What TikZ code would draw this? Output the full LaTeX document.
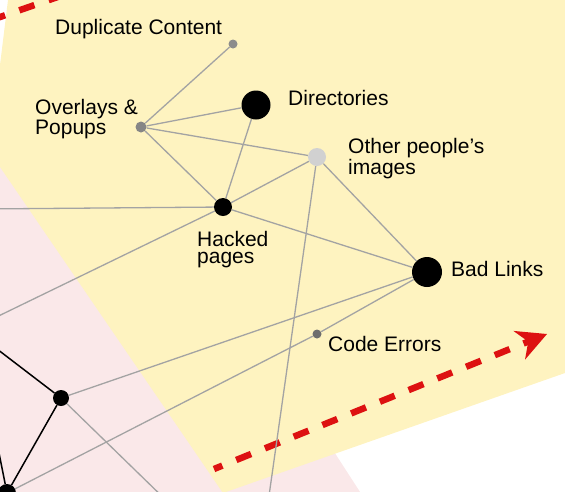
\documentclass[tikz,border=0pt]{standalone}
\usepackage{fontspec}
\setmainfont{Liberation Sans}
\usetikzlibrary{arrows.meta}
\definecolor{paleyellow}{HTML}{FEF3C0}
\definecolor{palepink}{HTML}{FAE8E9}
\definecolor{arrowred}{HTML}{DD1111}
\definecolor{edgegrey}{HTML}{A3A3A3}

\begin{document}
\begin{tikzpicture}[x=1pt,y=-1pt,
  vertex/.style={circle,inner sep=0pt,fill=black},
  link/.style={draw=edgegrey,line width=1.3pt},
  tie/.style={draw=black,line width=1.5pt},
  tag/.style={anchor=base west,inner sep=0pt,align=left,font=\fontsize{21}{17}\selectfont},
  flow/.style={draw=arrowred,line width=6.5pt,dash pattern=on 16pt off 15pt}]
\useasboundingbox (0,0) rectangle (565,491);
\clip (0,0) rectangle (565,491);

% zones
\fill[palepink] (0,120) -- (197,240) -- (362,495) -- (0,495) -- cycle;
\fill[paleyellow] (8,0) -- (565,0) -- (565,373) -- (223,493) -- (0,167) -- (0,65) -- cycle;

% direction of travel
\coordinate (redA) at (-10,20.5);
\coordinate (redB) at (62,-4.5);
\coordinate (flowA) at (214,469);
\coordinate (flowB) at (547,334);
\draw[flow] (redA) -- (redB);
\draw[flow,dash phase=7pt,-{Stealth[length=30pt,width=31pt,line width=0pt]}] (flowA) -- (flowB);

% dots
\node[vertex,fill=gray!90,minimum size=9pt] (dup) at (233,44) {};
\node[vertex,fill=gray!95,minimum size=11pt] (ovl) at (141,127) {};
\node[vertex,minimum size=29pt] (dir) at (256,105) {};
\node[vertex,fill=black!18,minimum size=18pt] (oth) at (317,157) {};
\node[vertex,minimum size=18pt] (hck) at (223,207) {};
\node[vertex,minimum size=30pt] (bad) at (427,272) {};
\node[vertex,fill=black!57,minimum size=9pt] (cod) at (317,334) {};
\node[vertex,minimum size=16pt] (p1) at (61,398) {};
\node[vertex,minimum size=18pt] (p2) at (7,493) {};

% loose ends leaving the frame
\coordinate (offW) at (-20,209);
\coordinate (offSW) at (-20,325);
\coordinate (offS) at (267,510);
\coordinate (offSE) at (171,505);
\coordinate (offNW) at (-20,336);
\coordinate (offN) at (-4,438);

\draw[link] (dup) -- (ovl);
\draw[link] (ovl) -- (dir);
\draw[link] (ovl) -- (oth);
\draw[link] (ovl) -- (hck);
\draw[link] (dir) -- (hck);
\draw[link] (hck) -- (oth);
\draw[link] (hck) -- (bad);
\draw[link] (oth) -- (bad);
\draw[link] (hck) -- (offW);
\draw[link] (hck) -- (offSW);
\draw[link] (oth) -- (offS);
\draw[link] (p1) -- (bad);
\draw[link] (p1) -- (offSE);
\draw[link] (p2) -- (cod);
\draw[link] (cod) -- (bad);
\draw[tie] (p1) -- (offNW);
\draw[tie] (p1) -- (p2);
\draw[tie] (p2) -- (offN);

% names (two-line ones sit on their last line)
\node[tag] (dupl) at (55,34) {Duplicate Content};
\node[tag] (ovll) at (35,134) {Overlays \&\\Popups};
\node[tag] (dirl) at (288,105) {Directories};
\node[tag] (othl) at (348,174) {Other people’s\\images};
\node[tag] (hckl) at (197,263) {Hacked\\pages};
\node[tag] (badl) at (451,276) {Bad Links};
\node[tag] (codl) at (328,351) {Code Errors};
\end{tikzpicture}
\end{document}
